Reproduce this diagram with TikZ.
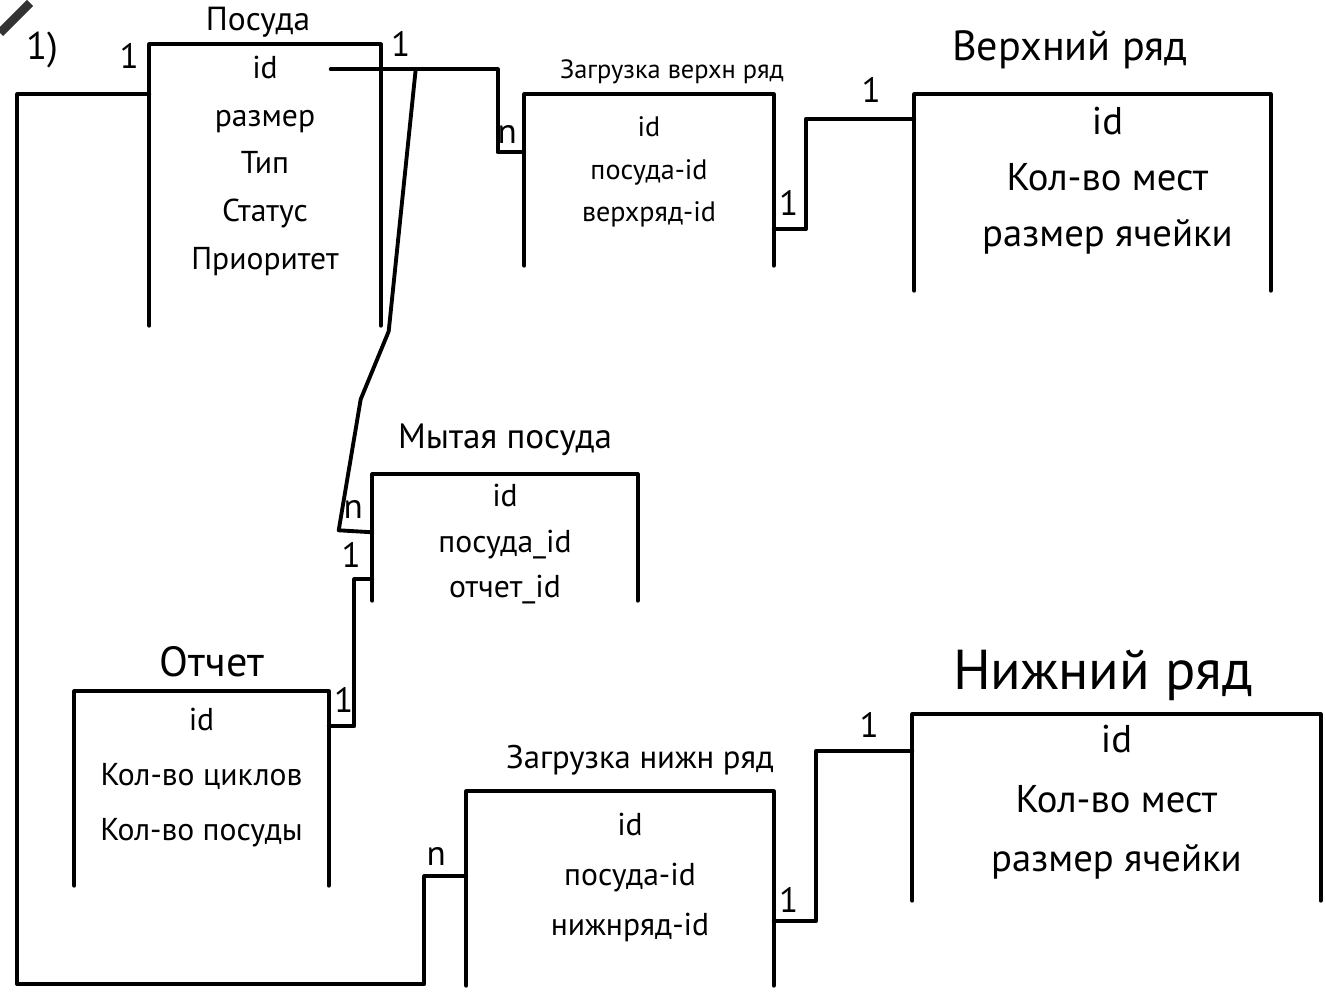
\documentclass[tikz,border=0pt]{standalone}
\usepackage{fontspec}
\setmainfont{PT Sans}
\usetikzlibrary{positioning, calc}

\begin{document}
\begin{tikzpicture}[
  x=0.1mm, y=-0.1mm,
  tbl/.style={inner sep=0pt, anchor=center},
  tframe/.style={line width=1.1pt, black, line cap=round, line join=round},
  rel/.style={line width=1.1pt, black, line cap=round, line join=round},
  ttl/.style={font=\fontsize{#1}{#1}\selectfont, inner sep=0pt},
  flds/.style 2 args={align=center, inner sep=0pt, anchor=north,
    font=\fontsize{#1}{#2}\selectfont},
  card/.style={font=\fontsize{10}{10}\selectfont, inner sep=1pt},
]

% Background
\fill[white] (0,0) rectangle (1326,993);
\useasboundingbox (0,0) rectangle (1326,993);
\draw[line width=2.5pt, black!80] (0,33) -- (30,3);

\node[ttl=11] (num) at (42,50) {1)};

% === Posuda ===
\node[tbl, minimum width=23mm, minimum height=28mm] (posuda) at (265,185) {};
\draw[tframe] (posuda.south west) |- (posuda.north east) -- (posuda.south east);
\node[ttl=9.5] (posudaT) at (258,22) {Посуда};
\node[flds={9}{13.6}, below=1.1mm of posuda.north] (posudaF)
  {id\\размер\\Тип\\Статус\\Приоритет};

% === Zagruzka verhn ryad ===
\node[tbl, minimum width=24.8mm, minimum height=17mm] (zagverh) at (649,180) {};
\draw[tframe] (zagverh.south west) |- (zagverh.north east) -- (zagverh.south east);
\node[ttl=7.5] (zagverhT) at (672,72) {Загрузка верхн ряд};
\node[flds={8}{12}, below=2.2mm of zagverh.north] (zagverhF)
  {id\\посуда-id\\верхряд-id};

% === Verhniy ryad ===
\node[tbl, minimum width=35.5mm, minimum height=19.5mm] (vrh) at (1092.5,192.5) {};
\draw[tframe] (vrh.south west) |- (vrh.north east) -- (vrh.south east);
\node[ttl=12] (vrhT) at (1070,50) {Верхний ряд};
\node[flds={11}{16}, below=1.2mm of vrh.north, xshift=1.5mm] (vrhF)
  {id\\Кол-во мест\\размер ячейки};

% === Mytaya posuda ===
\node[tbl, minimum width=26.4mm, minimum height=12.5mm] (myt) at (505,537.5) {};
\draw[tframe] (myt.south west) |- (myt.north east) -- (myt.south east);
\node[ttl=10] (mytT) at (505,440) {Мытая посуда};
\node[flds={9}{13}, below=0.9mm of myt.north] (mytF)
  {id\\посуда\_id\\отчет\_id};

% === Otchet ===
\node[tbl, minimum width=25.3mm, minimum height=19.3mm] (otchet) at (201.5,788.5) {};
\draw[tframe] (otchet.south west) |- (otchet.north east) -- (otchet.south east);
\node[ttl=12] (otchetT) at (212,662) {Отчет};
\node[flds={9}{15.6}, below=1.6mm of otchet.north] (otchetF)
  {id\\Кол-во циклов\\Кол-во посуды};

% === Zagruzka nizhn ryad ===
\node[tbl, minimum width=30.6mm, minimum height=19.3mm] (zagnizh) at (620,888.5) {};
\draw[tframe] (zagnizh.south west) |- (zagnizh.north east) -- (zagnizh.south east);
\node[ttl=9.3] (zagnizhT) at (640,760) {Загрузка нижн ряд};
\node[flds={9}{14.2}, below=2.1mm of zagnizh.north, xshift=1mm] (zagnizhF)
  {id\\посуда-id\\нижнряд-id};

% === Nizhniy ryad ===
\node[tbl, minimum width=40.7mm, minimum height=18.5mm] (nizh) at (1116.5,807.5) {};
\draw[tframe] (nizh.south west) |- (nizh.north east) -- (nizh.south east);
\node[ttl=16] (nizhT) at (1103,675) {Нижний ряд};
\node[flds={11}{17}, below=1mm of nizh.north] (nizhF)
  {id\\Кол-во мест\\размер ячейки};

% === Relations ===
\draw[rel] ([yshift=-5mm]posuda.north west) node[card, above left=2mm and 0.5mm] {1}
  -- ++(-132,0) -- ++(0,890) -- ++(407,0)
  |- ([yshift=-8.5mm]zagnizh.north west) node[card, above left=0.5mm and 1.5mm] {n};

\draw[rel] ([xshift=-5mm, yshift=-2.5mm]posuda.north east)
  -- ++(50,0) node[card, above right=0.7mm and 0.5mm] {1}
  -- ++(35,0) coordinate (pJ) -- ++(82,0)
  |- ([yshift=-5.8mm]zagverh.north west) node[card, above left=0.3mm and 0.2mm] {n};

\draw[rel] (pJ) -- ++(-27,262) -- ++(-28,68) -- ++(-22,131)
  -- ([yshift=-5.8mm]myt.north west) node[card, above left=0.8mm and 0.4mm] {n};

\draw[rel] ([yshift=-10.5mm]myt.north west) node[card, above left=0.65mm and 0.6mm] {1}
  -- ++(-18,0)
  |- ([yshift=-3.5mm]otchet.north east) node[card, above right=0.8mm and 0mm] {1};

\draw[rel] ([yshift=-13.5mm]zagverh.north east) node[card, above right=0.85mm and 0mm] {1}
  -- ++(32,0)
  |- ([yshift=-2.5mm]vrh.north west) node[card, above left=1.15mm and 2.8mm] {1};

\draw[rel] ([yshift=-13mm]zagnizh.north east) node[card, above right=0.35mm and 0mm] {1}
  -- ++(42,0)
  |- ([yshift=-3.7mm]nizh.north west) node[card, above left=0.85mm and 2.8mm] {1};

\end{tikzpicture}
\end{document}
